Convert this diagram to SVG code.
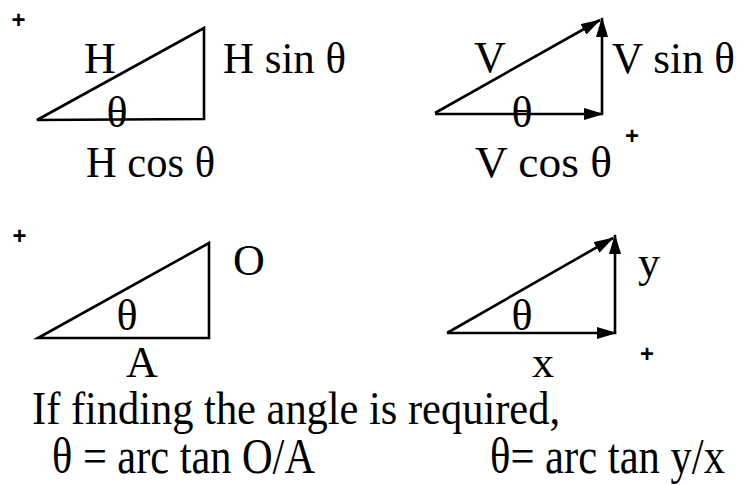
<svg xmlns="http://www.w3.org/2000/svg" width="747" height="485" viewBox="0 0 747 485">
<style>
.t{font-family:"Liberation Serif","Times New Roman",serif;font-size:44px;fill:#000}
.b{font-family:"Liberation Serif","Times New Roman",serif;fill:#000}
.p{font-family:"Liberation Sans",Arial,sans-serif;font-size:24px;font-weight:bold;fill:#000;text-anchor:middle}
.m{text-anchor:middle}
.ln{stroke:#000;stroke-width:2.6;fill:none;stroke-linejoin:miter}
</style>
<defs>
<marker id="ah" markerUnits="userSpaceOnUse" markerWidth="20" markerHeight="12" viewBox="0 0 20 12" refX="19" refY="6" orient="auto">
<path d="M0,0 L20,6 L0,12 z" fill="#000"/>
</marker>
</defs>
<rect width="747" height="485" fill="#fff"/>
<g id="connectors">
<line class="ln" x1="435" y1="113" x2="600" y2="20" marker-end="url(#ah)"/>
<line class="ln" x1="602" y1="114" x2="602" y2="18" marker-end="url(#ah)"/>
<line class="ln" x1="435" y1="114" x2="603" y2="114" marker-end="url(#ah)"/>
<line class="ln" x1="447" y1="333" x2="613" y2="238" marker-end="url(#ah)"/>
<line class="ln" x1="615" y1="334" x2="615" y2="235" marker-end="url(#ah)"/>
<line class="ln" x1="447" y1="333" x2="616" y2="333" marker-end="url(#ah)"/>
</g>
<g id="triangle-H">
<text class="p" x="18.5" y="28">+</text>
<polygon class="ln" points="37,120 204,28 204,119"/>
<text class="t m" x="100" y="73">H</text>
<text class="t" x="223" y="73" textLength="123" lengthAdjust="spacingAndGlyphs">H sin θ</text>
<text class="t m" x="117" y="127">θ</text>
<text class="t" x="86" y="177" textLength="129" lengthAdjust="spacingAndGlyphs">H cos θ</text>
</g>
<g id="vector-V">
<text class="t m" x="490" y="72">V</text>
<text class="t" x="612" y="73" textLength="123" lengthAdjust="spacingAndGlyphs">V sin θ</text>
<text class="t m" x="522" y="127">θ</text>
<text class="t" x="475" y="177" textLength="137" lengthAdjust="spacingAndGlyphs">V cos θ</text>
<text class="p" x="632" y="144">+</text>
</g>
<g id="triangle-OA">
<text class="p" x="19.5" y="244">+</text>
<polygon class="ln" points="38,338 209,243 209,338"/>
<text class="t m" x="249" y="275">O</text>
<text class="t m" x="127" y="330">θ</text>
<text class="t m" x="142" y="377">A</text>
</g>
<g id="vector-xy">
<text class="t m" x="649" y="277">y</text>
<text class="t m" x="522" y="330">θ</text>
<text class="t m" x="543" y="377">x</text>
<text class="p" x="647" y="362">+</text>
</g>
<g id="caption">
<text class="b" x="32" y="424" font-size="46" textLength="528" lengthAdjust="spacingAndGlyphs">If finding the angle is required,</text>
<text class="b" x="52" y="473" font-size="50" textLength="263" lengthAdjust="spacingAndGlyphs">θ = arc tan O/A</text>
<text class="b" x="490" y="473" font-size="50" textLength="235" lengthAdjust="spacingAndGlyphs">θ= arc tan y/x</text>
</g>
</svg>
